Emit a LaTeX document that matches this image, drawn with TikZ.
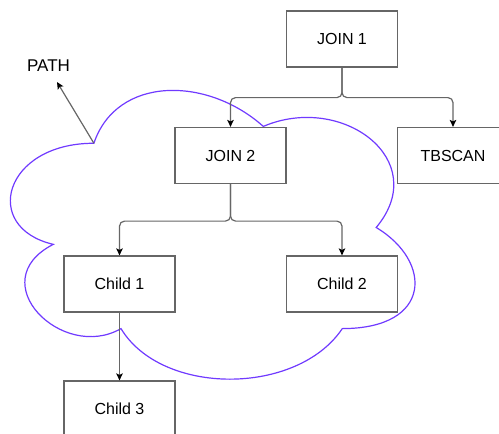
\documentclass[tikz,border=0pt]{standalone}
\usepackage{fontspec}
\setmainfont{Liberation Sans}
\usetikzlibrary{arrows.meta}
\definecolor{edgegray}{RGB}{102,102,102}
\definecolor{cloudpurple}{RGB}{112,58,255}
\tikzset{
  opbox/.style={draw=edgegray, line width=1.2pt, fill=white,
    minimum width=111pt, minimum height=56pt, inner sep=0pt,
    font=\fontsize{16}{19}\selectfont},
  conn/.style={draw=edgegray, line width=1.2pt, rounded corners=5pt,
    -{Stealth[length=7pt,width=6.5pt,inset=1.5pt,color=black]}},
  cloudline/.style={draw=cloudpurple, line width=1.2pt},
}
\begin{document}
\begin{tikzpicture}[x=1pt,y=-1pt]
\useasboundingbox (0,0) rectangle (499,434);
\clip (0,0) rectangle (499,434);

% cloud surrounding the JOIN 2 sub-tree
\draw[cloudline]
  (93.9,143.25)
  .. controls (3.6,143.25) and (-19,227.5) .. (53.3,244.35)
  .. controls (-19,281.4) and (62.3,362.3) .. (121.0,328.6)
  .. controls (161.6,396) and (297.1,396) .. (342.3,328.6)
  .. controls (432.6,328.6) and (432.6,261.2) .. (376.2,227.5)
  .. controls (432.6,160.1) and (342.3,92.7) .. (263.3,126.4)
  .. controls (206.8,75.9) and (116.5,75.9) .. (93.9,143.25) -- cycle;
\coordinate (cusp) at (93.9,143.25);

% operator boxes
\node[opbox] (j1) at (342,39) {JOIN 1};
\node[opbox] (j2) at (230.5,155.5) {JOIN 2};
\node[opbox] (tb) at (453,155.5) {TBSCAN};
\node[opbox] (c1) at (119.5,284) {Child 1};
\node[opbox] (c2) at (342,284) {Child 2};
\node[opbox] (c3) at (119.5,409) {Child 3};

% label of the cloud
\node[font=\fontsize{17}{20}\selectfont] (plabel) at (48.5,66) {PATH};
\coordinate (ptip) at (57,82);

% connectors
\draw[conn] (j1.south) -- ++(0,30) -| (j2.north);
\draw[conn] (j1.south) -- ++(0,30) -| (tb.north);
\draw[conn] (j2.south) -- ++(0,37) -| (c1.north);
\draw[conn] (j2.south) -- ++(0,37) -| (c2.north);
\draw[conn] (c1.south) -- (c3.north);
\draw[conn, rounded corners=0pt] (cusp) -- (ptip);
\end{tikzpicture}
\end{document}
